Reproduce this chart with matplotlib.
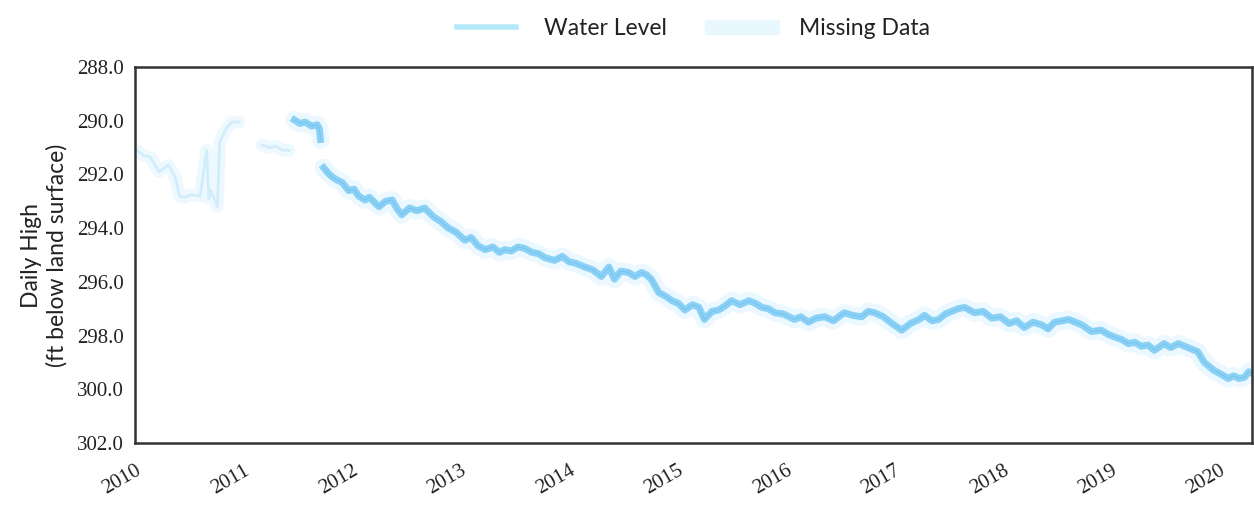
import numpy as np
import matplotlib
matplotlib.use('Agg')
import matplotlib.pyplot as plt
from matplotlib.lines import Line2D

nan = np.nan

# early readings shown as missing data (2010 - mid 2011)
missing_years = [2010.02, 2010.08, 2010.14, 2010.22, 2010.31, 2010.37, 2010.41, 2010.46, 2010.51,
                 2010.60, 2010.66, 2010.68, 2010.70, 2010.76, 2010.78, 2010.84, 2010.89, 2010.96,
                 nan, 2011.17, 2011.24, 2011.30, 2011.36, 2011.42]
missing_levels = [291.1, 291.3, 291.35, 291.9, 291.65, 292.1, 292.8, 292.85, 292.75,
                  292.8, 291.1, 292.9, 292.6, 293.2, 290.8, 290.3, 290.05, 290.05,
                  nan, 290.9, 291.0, 290.95, 291.1, 291.1]

# daily high water level (ft below land surface)
level_years = [2011.47, 2011.52, 2011.57, 2011.63, 2011.68, 2011.70, 2011.71, nan,
               2011.74, 2011.78, 2011.82, 2011.86, 2011.91, 2011.97, 2012.02, 2012.06, 2012.12,
               2012.16, 2012.21, 2012.25, 2012.31, 2012.37, 2012.42, 2012.46, 2012.53, 2012.60,
               2012.67, 2012.72, 2012.76, 2012.82, 2012.89, 2012.96, 2013.04, 2013.10, 2013.16,
               2013.23, 2013.30, 2013.36, 2013.41, 2013.47, 2013.53, 2013.59, 2013.66, 2013.72,
               2013.78, 2013.87, 2013.94, 2014.00, 2014.06, 2014.15, 2014.22, 2014.30, 2014.37,
               2014.42, 2014.48, 2014.55, 2014.61, 2014.67, 2014.72, 2014.76, 2014.83, 2014.90,
               2014.95, 2015.01, 2015.07, 2015.14, 2015.20, 2015.25, 2015.32, 2015.38, 2015.44,
               2015.50, 2015.58, 2015.66, 2015.72, 2015.78, 2015.84, 2015.90, 2015.98, 2016.08,
               2016.14, 2016.21, 2016.28, 2016.36, 2016.44, 2016.54, 2016.62, 2016.70, 2016.76,
               2016.82, 2016.90, 2016.98, 2017.07, 2017.15, 2017.23, 2017.28, 2017.35, 2017.41,
               2017.47, 2017.53, 2017.59, 2017.65, 2017.74, 2017.82, 2017.90, 2017.98, 2018.06,
               2018.13, 2018.20, 2018.28, 2018.36, 2018.42, 2018.48, 2018.55, 2018.61, 2018.67,
               2018.73, 2018.82, 2018.91, 2018.97, 2019.03, 2019.10, 2019.16, 2019.22, 2019.28,
               2019.34, 2019.40, 2019.49, 2019.55, 2019.62, 2019.68, 2019.74, 2019.80, 2019.86,
               2019.95, 2020.02, 2020.08, 2020.13, 2020.18, 2020.23, 2020.27, 2020.30]
level_values = [289.97, 290.1, 290.05, 290.2, 290.15, 290.3, 290.7, nan,
                291.75, 291.95, 292.1, 292.2, 292.3, 292.6, 292.55, 292.8, 292.95,
                292.85, 293.05, 293.2, 293.0, 292.95, 293.3, 293.5, 293.25, 293.35,
                293.25, 293.45, 293.6, 293.75, 294.0, 294.15, 294.45, 294.35, 294.65,
                294.8, 294.7, 294.9, 294.8, 294.85, 294.7, 294.75, 294.9, 294.95,
                295.1, 295.2, 295.05, 295.25, 295.3, 295.45, 295.55, 295.8, 295.45,
                295.9, 295.6, 295.65, 295.8, 295.65, 295.75, 295.9, 296.4, 296.55,
                296.7, 296.8, 297.05, 296.85, 296.95, 297.4, 297.1, 297.05, 296.9,
                296.7, 296.85, 296.7, 296.8, 296.95, 297.0, 297.15, 297.2, 297.4,
                297.3, 297.5, 297.35, 297.3, 297.45, 297.15, 297.25, 297.3, 297.1,
                297.15, 297.3, 297.55, 297.8, 297.55, 297.4, 297.25, 297.45, 297.4,
                297.2, 297.1, 297.0, 296.95, 297.15, 297.1, 297.35, 297.3, 297.55,
                297.45, 297.7, 297.5, 297.6, 297.75, 297.5, 297.45, 297.4, 297.5,
                297.6, 297.85, 297.8, 297.95, 298.05, 298.15, 298.3, 298.25, 298.4,
                298.35, 298.55, 298.3, 298.45, 298.3, 298.4, 298.5, 298.6, 299.0,
                299.3, 299.45, 299.6, 299.5, 299.6, 299.55, 299.35, 299.4]

year_ticks = list(range(2010, 2021))
level_ticks = [288.0, 290.0, 292.0, 294.0, 296.0, 298.0, 300.0, 302.0]

line_color = '#80cdf6'
glow_color = '#d4f1ff'

fig = plt.figure(figsize=(12.54, 5.08), dpi=100)
ax = fig.add_axes([0.1077, 0.128, 0.8907, 0.740])

# missing data: faint wide band
ax.plot(missing_years, missing_levels, color=glow_color, lw=9, alpha=0.4, solid_capstyle='round')
ax.plot(missing_years, missing_levels, color=line_color, lw=2.0, alpha=0.25)

# water level with soft glow
ax.plot(level_years, level_values, color=glow_color, lw=13, alpha=0.45, solid_capstyle='round')
ax.plot(level_years, level_values, color=line_color, lw=5, alpha=0.9)
ax.plot(level_years, level_values, color='#6ab4e8', lw=0.8, alpha=0.45)

ax.set_xlim(2010.0, 2020.30)
ax.set_ylim(302.0, 288.0)
ax.set_xticks(year_ticks)
ax.set_xticklabels([str(y) for y in year_ticks], rotation=30, ha='right', rotation_mode='anchor',
                   fontfamily='Liberation Serif', fontsize=15)
ax.set_yticks(level_ticks)
ax.set_yticklabels(['%.1f' % v for v in level_ticks], fontfamily='Liberation Serif', fontsize=15)
ax.tick_params(axis='x', length=0, pad=13, colors='#222222')
ax.tick_params(axis='y', length=0, pad=8, colors='#222222')

for side in ['left', 'bottom', 'top', 'right']:
    ax.spines[side].set_color('#333333')
    ax.spines[side].set_linewidth(1.8)

ax.set_ylabel('Daily High\n(ft below land surface)', fontfamily='Lato', fontsize=16.5,
              color='#222222', labelpad=7)

handles = [Line2D([0], [0], color='#b5e9f8', lw=4),
           Line2D([0], [0], color=glow_color, lw=11, alpha=0.5)]
leg = ax.legend(handles, ['Water Level', 'Missing Data'], loc='lower center',
                bbox_to_anchor=(0.5, 1.02), ncol=2, frameon=False, handlelength=2.6,
                columnspacing=2.0, handletextpad=1.2, prop={'family': 'Lato', 'size': 16.5})
for t in leg.get_texts():
    t.set_color('#222222')

fig.savefig('out.png', dpi=100, facecolor='white')
